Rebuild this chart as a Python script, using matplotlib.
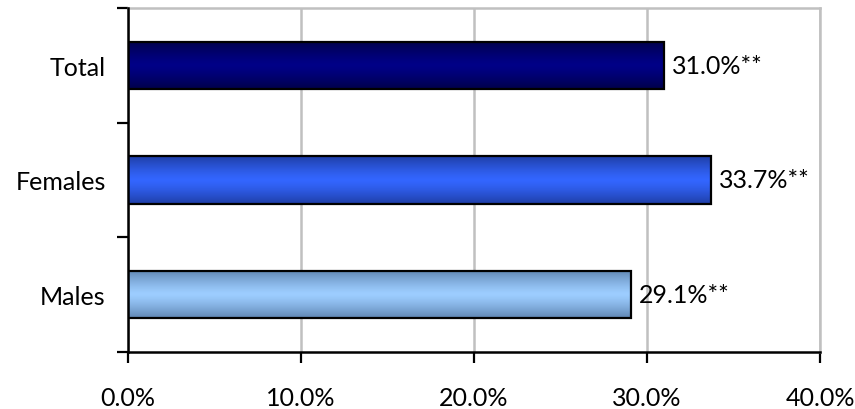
import numpy as np
import matplotlib
matplotlib.use("Agg")
import matplotlib.pyplot as plt
from matplotlib.colors import LinearSegmentedColormap, to_rgb
from matplotlib.ticker import FuncFormatter, FixedLocator

plt.rcParams['font.family'] = ['Lato', 'DejaVu Sans']

categories = ["Males", "Females", "Total"]
values = [29.1, 33.7, 31.0]
value_labels = ["29.1%**", "33.7%**", "31.0%**"]
x_ticks = [0, 10, 20, 30, 40]

# (edge colour, centre colour) for the shaded bars
shades = [("#5f86b3", "#9dcdff"),
          ("#1f3ea6", "#3366ff"),
          ("#00004a", "#000087")]

fig = plt.figure(figsize=(8.55, 4.10), dpi=100)
ax = fig.add_axes([128 / 855, 1 - 353 / 410, (820 - 128) / 855, (353 - 9) / 410])

bar_h = 0.41
ypos = np.arange(len(categories))
bars = ax.barh(ypos, values, height=bar_h, color="none", edgecolor="black",
               linewidth=1.6, zorder=4)

grad = np.abs(np.linspace(-1, 1, 256)) ** 1.3
for bar, (edge_c, mid_c) in zip(bars, shades):
    cmap = LinearSegmentedColormap.from_list("shade", [to_rgb(mid_c), to_rgb(edge_c)])
    x0, y0 = bar.get_x(), bar.get_y()
    w, h = bar.get_width(), bar.get_height()
    im = ax.imshow(grad.reshape(-1, 1), cmap=cmap, aspect="auto",
                   extent=[x0, x0 + w, y0, y0 + h], zorder=3,
                   interpolation="bilinear", vmin=0, vmax=1)
    im.set_clip_path(bar)

for y, v, lab in zip(ypos, values, value_labels):
    ax.text(v + 0.45, y, lab, va="center", ha="left", fontsize=18, color="black")

ax.set_xlim(0, 40)
ax.set_ylim(-0.5, len(categories) - 0.5)

ax.xaxis.set_major_locator(FixedLocator(x_ticks))
ax.xaxis.set_major_formatter(FuncFormatter(lambda v, p: f"{v:.1f}%"))
ax.set_yticks(ypos)
ax.set_yticklabels(categories)
ax.yaxis.set_minor_locator(FixedLocator(np.arange(-0.5, len(categories), 1.0)))

ax.tick_params(axis="x", which="major", length=8, width=1.6, direction="out",
               labelsize=18, pad=16.5)
ax.tick_params(axis="y", which="major", length=0, labelsize=18, pad=16)
ax.tick_params(axis="y", which="minor", length=8, width=1.6, direction="out")

ax.grid(axis="x", color="#c0c0c0", linewidth=1.8, zorder=0)
ax.set_axisbelow(True)

for side in ("left", "bottom"):
    ax.spines[side].set_linewidth(1.8)
    ax.spines[side].set_color("black")
    ax.spines[side].set_zorder(5)
for side in ("top", "right"):
    ax.spines[side].set_linewidth(1.8)
    ax.spines[side].set_color("#c0c0c0")

fig.savefig("out.png", dpi=100, facecolor="white")
